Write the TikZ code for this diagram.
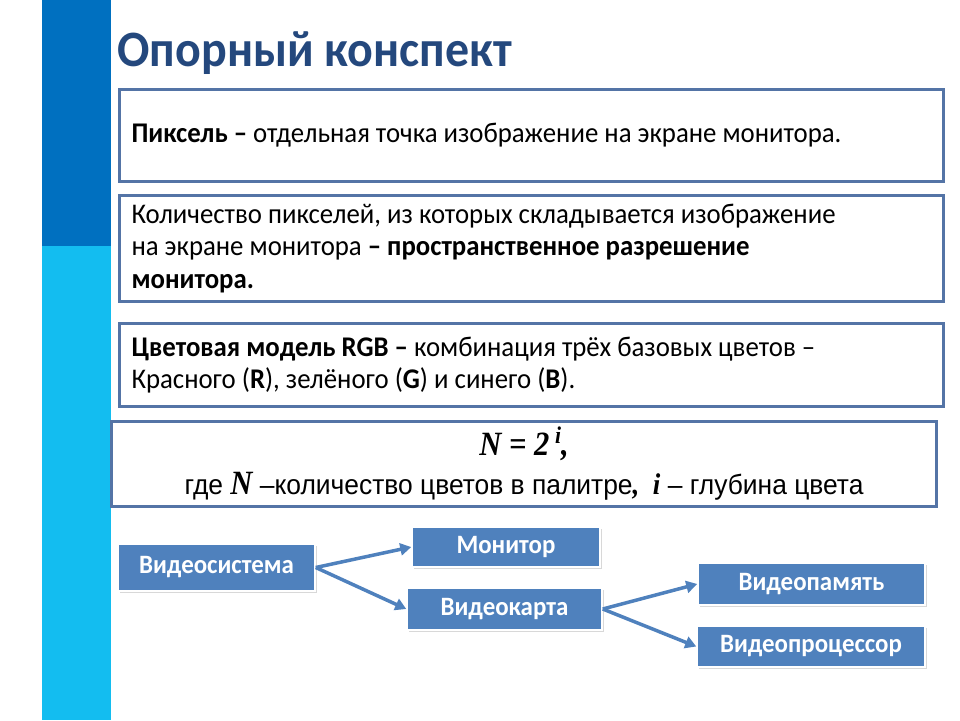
\documentclass[tikz,border=0pt]{standalone}
\usepackage{fontspec}
\setmainfont[FakeStretch=0.94]{Carlito}
\newfontfamily\arialf[FakeStretch=0.95]{Liberation Sans}
\newfontfamily\timesf[FakeStretch=0.9]{Liberation Serif}
\usetikzlibrary{arrows.meta,shadows}

\definecolor{titleblue}{RGB}{36,72,125}
\definecolor{bardark}{RGB}{0,112,192}
\definecolor{barlight}{RGB}{19,189,240}
\definecolor{frameblue}{RGB}{84,116,166}
\definecolor{boxblue}{RGB}{79,129,189}

\tikzset{
  notebox/.style={draw=frameblue, line width=3pt, fill=white, anchor=north west,
    inner xsep=9pt, align=flush left, font=\fontsize{28.5}{32.5}\selectfont},
  unitbox/.style={fill=boxblue, draw=white, line width=1.5pt, text=white,
    font=\fontsize{26.5}{27}\selectfont\bfseries, inner sep=0pt,
    drop shadow={shadow xshift=1.5pt, shadow yshift=-1.5pt, fill=black!30}},
  link/.style={draw=boxblue, line width=3.5pt, -{Triangle[length=11pt,width=12pt]}}
}

\begin{document}
\begin{tikzpicture}[x=1pt, y=-1pt]
		\useasboundingbox (0,0) rectangle (960,720);
		% Side bar
		\fill[bardark] (42,0) rectangle (111,246);
		\fill[barlight] (42,246) rectangle (111,720);
		
		% Title
		\node[anchor=west, text=titleblue, font=\fontsize{51}{56}\selectfont\bfseries] (title) at (114,53) {Опорный конспект};
		
		% Definitions
		\node[notebox, minimum width=824pt, minimum height=92pt, text width=800pt] (pixel) at (118,88)
			{\textbf{Пиксель –} отдельная точка изображение на экране монитора.};
		\node[notebox, minimum width=824pt, minimum height=106pt, text width=800pt] (resol) at (118,194)
			{Количество пикселей, из которых складывается изображение\\
			 на экране монитора \textbf{– пространственное разрешение}\\
			 \textbf{монитора.}};
		\node[notebox, minimum width=824pt, minimum height=83pt, text width=800pt] (rgb) at (118,322)
			{\textbf{Цветовая модель RGB –} комбинация трёх базовых цветов –\\
			 Красного (\textbf{R}), зелёного (\textbf{G}) и синего (\textbf{B}).};
		
		% Formula
		\node[notebox, align=flush center, minimum width=825pt, minimum height=85pt, text width=800pt,
			font=\fontsize{27.8}{42}\selectfont] (formula) at (110,420)
			{{\timesf\bfseries\itshape\fontsize{34}{40}\selectfont N = 2\,\raisebox{12pt}{\fontsize{24}{24}\selectfont i},}\\[-3pt]
			 {\arialf где }{\timesf\bfseries\itshape\fontsize{34}{40}\selectfont N}{\arialf\ –количество цветов в палитре}{\timesf\bfseries\itshape\fontsize{30}{40}\selectfont,\ \ i}{\arialf\ – глубина цвета}};
		
		% Structure of the video system
		\node[unitbox, minimum width=197pt, minimum height=47pt] (vsys) at (216.5,567.5) {Видеосистема};
		\node[unitbox, minimum width=188pt, minimum height=40pt] (mon) at (506,547) {Монитор};
		\node[unitbox, minimum width=195pt, minimum height=42pt] (card) at (504.5,609) {Видеокарта};
		\node[unitbox, minimum width=227pt, minimum height=42pt] (vmem) at (811.5,584) {Видеопамять};
		\node[unitbox, minimum width=228pt, minimum height=41pt] (vproc) at (811,646.5) {Видеопроцессор};
		
		\draw[link] (vsys.east) -- (mon.west);
		\draw[link] (vsys.east) -- (card.west);
		\draw[link] (card.east) -- (vmem.west);
		\draw[link] (card.east) -- (vproc.west);
		
	\end{tikzpicture}
\end{document}
